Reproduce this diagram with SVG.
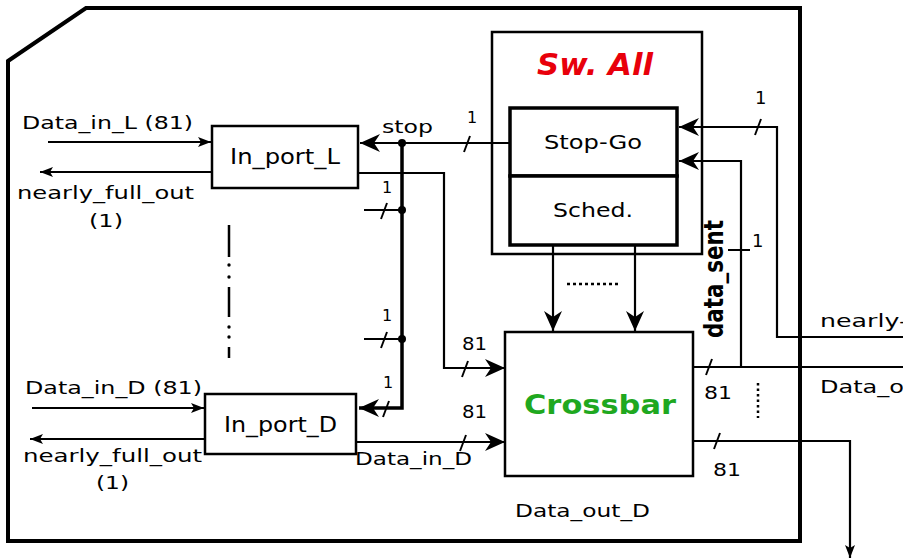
<svg xmlns="http://www.w3.org/2000/svg" width="903" height="560" viewBox="0 0 903 560">
<defs>
<style>
text{font-family:"DejaVu Sans","Liberation Sans",sans-serif;fill:#000}
.w{fill:none;stroke:#000;stroke-width:2.2}
.bus{fill:none;stroke:#000;stroke-width:3.5}
.box{fill:#fff;stroke:#000;stroke-width:2.5}
.tk{stroke:#000;stroke-width:2;fill:none}
.lbl{font-size:18px}
.num{font-size:18px}
.one{font-size:16px}
.nm{font-size:22px}
</style>
<marker id="big" viewBox="0 0 20 18" refX="20" refY="9" markerWidth="20" markerHeight="18" markerUnits="userSpaceOnUse" orient="auto">
<path d="M0,0 L20,9 L0,18 L6,9 z" fill="#000"/>
</marker>
<marker id="sm" viewBox="0 0 13 10" refX="13" refY="5" markerWidth="13" markerHeight="10" markerUnits="userSpaceOnUse" orient="auto">
<path d="M0,0 L13,5 L0,10 L3,5 z" fill="#000"/>
</marker>
</defs>
<rect width="903" height="560" fill="#fff"/>
<polygon points="8,61 86,8 800,8 800,541 8,541" fill="none" stroke="#000" stroke-width="4"/>

<g id="connectors">
<path class="w" d="M48,142 H211" marker-end="url(#sm)"/>
<path class="w" d="M212,172 H40" marker-end="url(#sm)"/>
<path class="w" d="M32,408 H204" marker-end="url(#sm)"/>
<path class="w" d="M205,439 H30" marker-end="url(#sm)"/>
<path class="w" d="M509,143 H360" marker-end="url(#big)"/>
<path class="bus" d="M402,143 V408 H359" marker-end="url(#big)"/>
<path class="w" d="M364,210 H402"/>
<path class="w" d="M364,339 H402"/>
<circle cx="402" cy="143" r="4"/>
<circle cx="402" cy="210" r="4"/>
<circle cx="402" cy="339" r="4"/>
<path class="w" d="M358,173 H444 V368 H505" marker-end="url(#big)"/>
<path class="w" d="M356,442 H505" marker-end="url(#big)"/>
<path class="w" d="M553,245 V331" marker-end="url(#big)"/>
<path class="w" d="M635,245 V331" marker-end="url(#big)"/>
<path class="w" d="M903,337 H777 V127 H679" marker-end="url(#big)"/>
<path class="w" d="M741,367 V161 H679" marker-end="url(#big)"/>
<path class="w" d="M693,367 H903"/>
<path class="w" d="M693,441 H850 V558" marker-end="url(#sm)"/>
<g class="tk">
<path d="M464,152 L470,136"/>
<path d="M381,219 L387,203"/>
<path d="M381,348 L387,332"/>
<path d="M383,417 L389,401"/>
<path d="M462,377 L468,361"/>
<path d="M460,451 L466,435"/>
<path d="M755,135 L761,119"/>
<path d="M706,375 L712,359"/>
<path d="M714,449 L720,433"/>
<path d="M728,250 H750"/>
</g>
</g>

<g id="dashdot">
<path d="M229,225 V257 M229,287 V317 M229,347 V358" stroke="#000" stroke-width="2.5"/>
<circle cx="229" cy="265" r="1.7"/>
<circle cx="229" cy="277" r="1.7"/>
<circle cx="229" cy="327" r="1.7"/>
<circle cx="229" cy="337" r="1.7"/>
</g>
<path d="M567,284 H620" stroke="#000" stroke-width="2.5" stroke-dasharray="3,3"/>
<path d="M758,383 V418" stroke="#000" stroke-width="2.5" stroke-dasharray="2.5,3"/>

<g id="in_port_L">
<rect class="box" x="212" y="126" width="146" height="62"/>
<text class="nm" x="230" y="164" textLength="110" lengthAdjust="spacingAndGlyphs">In_port_L</text>
</g>
<g id="in_port_D">
<rect class="box" x="205" y="394" width="151" height="60"/>
<text class="nm" x="224" y="432" textLength="113" lengthAdjust="spacingAndGlyphs">In_port_D</text>
</g>
<g id="sw_all">
<rect x="492" y="32" width="210" height="222" fill="none" stroke="#000" stroke-width="2.5"/>
<text x="537" y="75" font-size="30" font-weight="bold" font-style="italic" fill="#e8000b" style="fill:#e8000b" textLength="116" lengthAdjust="spacingAndGlyphs">Sw. All</text>
</g>
<g id="stop_go">
<rect x="510" y="108" width="167" height="68" fill="#fff" stroke="#000" stroke-width="3.5"/>
<text x="544" y="149" font-size="20" textLength="98" lengthAdjust="spacingAndGlyphs">Stop-Go</text>
</g>
<g id="sched">
<rect x="510" y="176" width="167" height="69" fill="#fff" stroke="#000" stroke-width="3.5"/>
<text x="553" y="217" font-size="20" textLength="80" lengthAdjust="spacingAndGlyphs">Sched.</text>
</g>
<g id="crossbar">
<rect class="box" x="505" y="332" width="188" height="144"/>
<text x="524" y="414" font-size="27" font-weight="bold" fill="#1fa81f" style="fill:#1fa81f" textLength="152" lengthAdjust="spacingAndGlyphs">Crossbar</text>
</g>

<g id="labels">
<text class="lbl" x="22" y="129" textLength="171" lengthAdjust="spacingAndGlyphs">Data_in_L (81)</text>
<text class="lbl" x="17" y="199" textLength="177" lengthAdjust="spacingAndGlyphs">nearly_full_out</text>
<text class="lbl" x="89" y="227" textLength="34" lengthAdjust="spacingAndGlyphs">(1)</text>
<text class="lbl" x="25" y="394" textLength="177" lengthAdjust="spacingAndGlyphs">Data_in_D (81)</text>
<text class="lbl" x="23" y="462" textLength="179" lengthAdjust="spacingAndGlyphs">nearly_full_out</text>
<text class="lbl" x="96" y="489" textLength="33" lengthAdjust="spacingAndGlyphs">(1)</text>
<text class="lbl" x="382" y="133" textLength="51" lengthAdjust="spacingAndGlyphs">stop</text>
<text class="lbl" x="355" y="465" textLength="117" lengthAdjust="spacingAndGlyphs">Data_in_D</text>
<text class="lbl" x="515" y="517" textLength="135" lengthAdjust="spacingAndGlyphs">Data_out_D</text>
<text class="lbl" x="820" y="327" font-size="19" textLength="88" lengthAdjust="spacingAndGlyphs">nearly-</text>
<text class="lbl" x="820" y="393" textLength="84" lengthAdjust="spacingAndGlyphs">Data_o</text>
<text class="num" x="462" y="350" textLength="25" lengthAdjust="spacingAndGlyphs">81</text>
<text class="num" x="462" y="418" textLength="25" lengthAdjust="spacingAndGlyphs">81</text>
<text class="num" x="704" y="399" textLength="28" lengthAdjust="spacingAndGlyphs">81</text>
<text class="num" x="713" y="476" textLength="28" lengthAdjust="spacingAndGlyphs">81</text>
<text class="one" x="467" y="123">1</text>
<text class="one" x="382" y="193">1</text>
<text class="one" x="382" y="321">1</text>
<text class="one" x="383" y="388">1</text>
<text class="num" x="755" y="104">1</text>
<text class="num" x="752" y="247">1</text>
<text transform="translate(723,338) rotate(-90) scale(1,1.3)" font-size="21" font-weight="bold" textLength="118" lengthAdjust="spacingAndGlyphs">data_sent</text>
</g>
</svg>
